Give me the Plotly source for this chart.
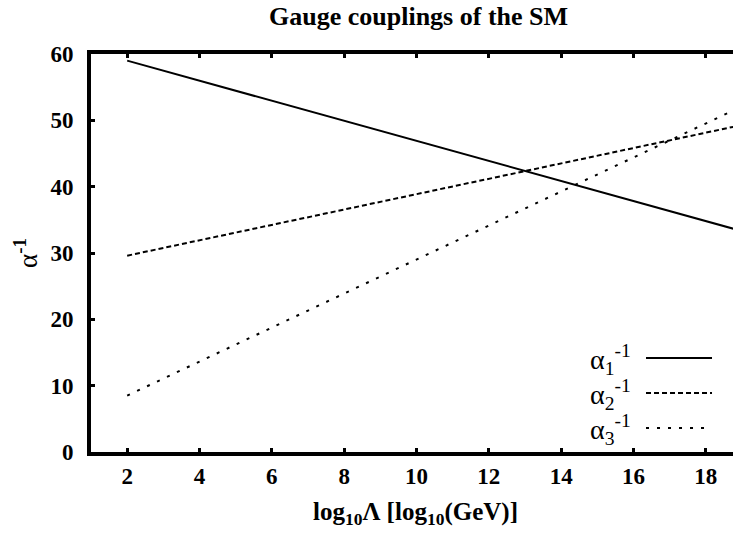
import plotly.graph_objects as go

# Data
scale_log10 = [2, 19]
alpha1_inv = [59.0, 33.3]
alpha2_inv = [29.6, 49.3]
alpha3_inv = [8.5, 52.1]
series_names = ["α<sub>1</sub><sup>-1</sup>", "α<sub>2</sub><sup>-1</sup>", "α<sub>3</sub><sup>-1</sup>"]
series_values = [alpha1_inv, alpha2_inv, alpha3_inv]
dashes = ["solid", "5px,3px", "3px,8px"]
x_ticks = [2, 4, 6, 8, 10, 12, 14, 16, 18]
y_ticks = [0, 10, 20, 30, 40, 50, 60]

SERIF = "Liberation Serif, Times New Roman, serif"

fig = go.Figure()
for name, vals, d in zip(series_names, series_values, dashes):
    fig.add_trace(go.Scatter(x=scale_log10, y=vals, mode="lines", name=name,
                             line=dict(color="black", width=2, dash=d),
                             showlegend=False))

# manual legend (text left, sample right), like the gnuplot key
leg_y = [0.236, 0.148, 0.060]
for name, d, yy in zip(series_names, dashes, leg_y):
    fig.add_shape(type="line", xref="paper", yref="paper",
                  x0=0.8645, x1=0.9673, y0=yy, y1=yy,
                  line=dict(color="black", width=2, dash=d))
    fig.add_annotation(xref="paper", yref="paper", x=0.845, y=yy - 0.004,
                       xanchor="right", yanchor="middle", showarrow=False,
                       text=name, font=dict(family=SERIF, size=28, color="black"))

# x-axis title placed like the reference
fig.add_annotation(xref="paper", yref="paper", x=0.506, y=-0.155,
                   xanchor="center", yanchor="middle", showarrow=False,
                   text="log<sub>10</sub>Λ [log<sub>10</sub>(GeV)]",
                   font=dict(family=SERIF, size=25, color="black", weight="bold"))

fig.update_layout(
    width=733, height=534,
    margin=dict(l=91, r=0, t=54, b=82),
    paper_bgcolor="white", plot_bgcolor="white",
    title=dict(text="Gauge couplings of the SM", x=0.571, xref="container",
               y=0.971, yref="container", xanchor="center", yanchor="middle",
               font=dict(family=SERIF, size=26, color="black", weight="bold")),
)
fig.update_xaxes(range=[1, 18.75], tickvals=x_ticks, ticktext=[str(v) for v in x_ticks],
                 showgrid=False, zeroline=False, showline=True, linecolor="black", linewidth=4,
                 mirror="ticks", ticks="inside", ticklen=4, tickwidth=3, tickcolor="black",
                 ticklabelstandoff=0,
                 tickfont=dict(family=SERIF, size=23, color="black", weight="bold"))
fig.update_yaxes(range=[0, 60], tickvals=y_ticks, ticktext=[str(v) for v in y_ticks],
                 showgrid=False, zeroline=False, showline=True, linecolor="black", linewidth=4,
                 mirror=False, ticks="inside", ticklen=4, tickwidth=3, tickcolor="black",
                 ticklabelstandoff=9,
                 tickfont=dict(family=SERIF, size=23, color="black", weight="bold"),
                 title=dict(text="α<sup><b>-1</b></sup>", standoff=6,
                            font=dict(family=SERIF, size=27, color="black")))

fig.write_html("out.html", config={"displayModeBar": False},
               post_script="document.body.style.margin='0px';document.body.style.overflow='hidden';")
